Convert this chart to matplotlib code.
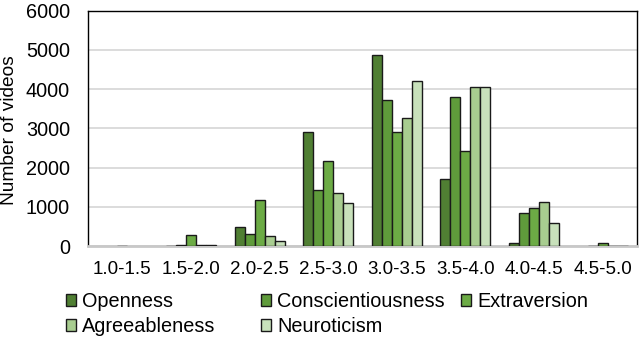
import matplotlib
matplotlib.use("Agg")
import matplotlib.pyplot as plt
import numpy as np

categories = ["1.0-1.5", "1.5-2.0", "2.0-2.5", "2.5-3.0", "3.0-3.5", "3.5-4.0", "4.0-4.5", "4.5-5.0"]
openness = [0, 10, 490, 2900, 4870, 1705, 68, 0]
conscientiousness = [0, 20, 300, 1425, 3715, 3800, 832, 10]
extraversion = [10, 280, 1170, 2180, 2908, 2435, 967, 76]
agreeableness = [0, 20, 260, 1340, 3265, 4053, 1111, 10]
neuroticism = [0, 20, 135, 1086, 4216, 4053, 577, 10]

series_names = ["Openness", "Conscientiousness", "Extraversion", "Agreeableness", "Neuroticism"]
series = [openness, conscientiousness, extraversion, agreeableness, neuroticism]
colors = ["#507f33", "#5f9b3b", "#6cab45", "#a8cd90", "#c8e1bb"]
yticks = [0, 1000, 2000, 3000, 4000, 5000, 6000]

plt.rcParams['font.family'] = ['Liberation Sans', 'DejaVu Sans']

fig = plt.figure(figsize=(6.4, 3.39), dpi=100)
ax = fig.add_axes([88/640, 1 - 246/339, (637-88)/640, (246-10.7)/339])

x = np.arange(len(categories))
bw = 0.146
handles = []
for i, (name, vals, c) in enumerate(zip(series_names, series, colors)):
    offs = (i - 2) * bw
    ecs = ["#1a1a1a" if v > 0 else "none" for v in vals]
    b = ax.bar(x + offs, vals, width=bw, color=c, edgecolor=ecs, linewidth=1.0, zorder=3, label=name)
    handles.append(b)

ax.set_xlim(-0.5, len(categories) - 0.5)
ax.set_ylim(0, 6000)
ax.set_yticks(yticks)
ax.set_xticks(x)
ax.set_xticklabels(categories)
ax.tick_params(axis='both', length=0)
ax.tick_params(axis='x', pad=11, labelsize=13.5)
ax.tick_params(axis='y', pad=13, labelsize=14.3)
ax.yaxis.grid(True, color="#d9d9d9", linewidth=1.3, zorder=0)
ax.set_axisbelow(True)
for s in ["left", "top", "right"]:
    ax.spines[s].set_color("black")
    ax.spines[s].set_linewidth(1.0)
ax.spines["bottom"].set_color("#c8c8c8")
ax.spines["bottom"].set_linewidth(2.0)
ax.spines["bottom"].set_zorder(2.5)

ylab = fig.text(1/640, 1 - 130/339, "Number of videos", fontsize=13.8,
                rotation=90, ha="left", va="center")

# legend: three columns placed like the reference (row-major order)
columns = [[0, 3], [1, 4], [2]]
col_x = [66, 261, 461]
for idxs, cx in zip(columns, col_x):
    leg = fig.legend([handles[k] for k in idxs], [series_names[k] for k in idxs],
                     ncol=1, loc="upper left",
                     bbox_to_anchor=(cx/640, 1 - 292/339), frameon=False,
                     fontsize=14.3, handlelength=0.5, handleheight=0.5,
                     handletextpad=0.3, labelspacing=0.3,
                     borderaxespad=0, borderpad=0)
    for h in leg.legend_handles:
        h.set_edgecolor("#1a1a1a")
        h.set_linewidth(1.0)

fig.savefig("out.png", dpi=100)
